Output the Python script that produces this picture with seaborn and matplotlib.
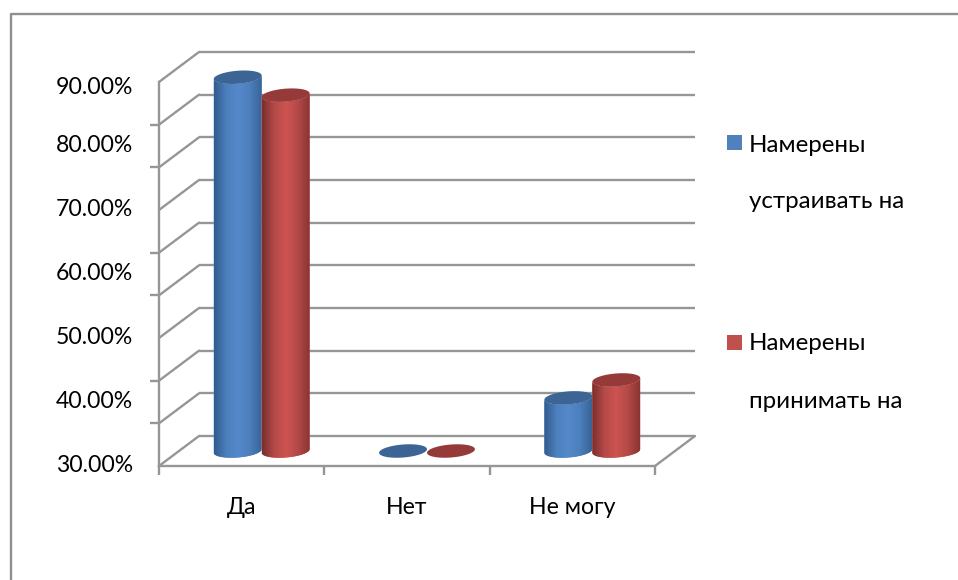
import numpy as np
import pandas as pd
import seaborn as sns
import matplotlib.pyplot as plt
from matplotlib.colors import LinearSegmentedColormap
from matplotlib.lines import Line2D
from matplotlib.patches import Polygon, Rectangle
from matplotlib.transforms import ScaledTranslation

categories = ["Да", "Нет", "Не могу"]
series_names = ["Намерены\nустраивать на", "Намерены\nпринимать на"]
arrange_values = [88.4, 30.0, 38.3]
accept_values = [85.6, 30.0, 41.1]
y_tick_values = [30, 40, 50, 60, 70, 80, 90]
y_tick_labels = ["30.00%", "40.00%", "50.00%", "60.00%", "70.00%", "80.00%", "90.00%"]

sns.set_theme(style="white")
plt.rcParams["font.family"] = ["Lato", "Open Sans", "DejaVu Sans"]

W, H = 958, 580
LINE = "#969696"
colors = ["#4f81bd", "#c0504d"]
tops = ["#3c6494", "#953a38"]
ramps = [["#335c8e", "#4c7fbc", "#5589cb", "#4c7fbc", "#3a6496"],
         ["#7a2f2d", "#b44a48", "#cd5451", "#b44a48", "#8a3533"]]

df = pd.DataFrame({
    "cat": categories * 2,
    "val": arrange_values + accept_values,
    "series": [series_names[0]] * 3 + [series_names[1]] * 3,
})

fig = plt.figure(figsize=(W / 100, H / 100), dpi=100)
ax = fig.add_axes([159 / W, 1 - 466 / H, 496 / W, 384 / H])
sns.barplot(data=df, x="cat", y="val", hue="series", palette=colors, width=0.58,
            legend=False, saturation=1, ax=ax)

ymin, ymax = 30, 90
ppx = 496 / 3  # pixels per category
ppy = 384 / (ymax - ymin)  # pixels per percent
dx, dy = 40 / ppx, 30 / ppy  # depth of the fake 3d box
grid_levels = np.linspace(ymin, ymax, 10)

# floor, back wall and side wall
ax.hlines(grid_levels + dy, -0.5 + dx, 2.5 + dx, color=LINE, lw=1.7, zorder=1, clip_on=False)
for lev in grid_levels:
    ax.plot([-0.5, -0.5 + dx], [lev, lev + dy], color=LINE, lw=1.7, zorder=1, clip_on=False)
ax.plot([2.5, 2.5 + dx], [ymin, ymin + dy], color=LINE, lw=1.7, zorder=1, clip_on=False)

b = 6.5 / ppy
tilt = 1.8 / ppy
t_front = np.linspace(np.pi, 2 * np.pi, 40)
t_full = np.linspace(0, 2 * np.pi, 80)

# seaborn bars give the geometry, cylinders are painted over them
for i, patch in enumerate(ax.patches):
    s = i // 3
    x0 = patch.get_x() + dx / 2
    w = patch.get_width()
    cx = x0 + w / 2
    top = patch.get_height() + dy / 2
    base = ymin + dy / 2
    patch.set_visible(False)
    z = 3 + i
    if top > base:
        ex = cx + w / 2 * np.cos(t_front)
        rim = b * np.sin(t_front) + tilt * np.cos(t_front)
        xs = np.r_[ex, ex[::-1]]
        ys = np.r_[base + rim, top + rim[::-1]]
        body = Polygon(np.c_[xs, ys], closed=True, fc=ramps[s][2], ec="none",
                       zorder=z, clip_on=False)
        ax.add_patch(body)
        cmap = LinearSegmentedColormap.from_list(f"c{s}", ramps[s])
        im = ax.imshow(np.linspace(0, 1, 64).reshape(1, -1), cmap=cmap, aspect="auto",
                       extent=[x0, x0 + w, base - 2 * b, top + b], zorder=z + 0.1,
                       interpolation="bilinear")
        im.set_clip_path(body)
        im.set_clip_box(fig.bbox)
    ell = np.c_[cx + w / 2 * np.cos(t_full),
                top + b * np.sin(t_full) + tilt * np.cos(t_full)]
    ax.add_patch(Polygon(ell, closed=True, fc=tops[s], ec="none", zorder=z + 0.2, clip_on=False))

ax.set_xlim(-0.5, 2.5)
ax.set_ylim(ymin, ymax)
ax.set_xlabel("")
ax.set_ylabel("")
sns.despine(ax=ax)
for side in ["left", "bottom"]:
    ax.spines[side].set_color(LINE)
    ax.spines[side].set_linewidth(1.7)

ax.set_yticks(y_tick_values, y_tick_labels, fontsize=16.6, color="black")
ax.set_yticks(grid_levels, minor=True)
ax.set_xticks(range(3), categories, fontsize=16.6, color="black")
ax.set_xticks([-0.5, 0.5, 1.5, 2.5], minor=True)
ax.tick_params(axis="y", which="major", length=0, pad=18.5)
ax.tick_params(axis="x", which="major", length=0, pad=22)
ax.tick_params(which="minor", length=6.5, width=1.7, color=LINE,
               bottom=True, left=True)

# labels in the source do not sit exactly on the value levels
for val, lab in zip(y_tick_values, ax.get_yticklabels()):
    shift = -4 if val == 90 else 3
    lab.set_transform(lab.get_transform() + ScaledTranslation(0, shift / 100, fig.dpi_scale_trans))

# outer frame of the chart area
fig.add_artist(Line2D([11 / W, 11 / W, 1], [0, 1 - 14 / H, 1 - 14 / H], color="#8f8f8f", lw=1.7))

# legend
for name, col, sq_y, line_ys in zip(series_names, colors, [135, 335], [(145, 201), (344, 401)]):
    fig.add_artist(Rectangle((727 / W, 1 - (sq_y + 15) / H), 15 / W, 15 / H, fc=col, ec="none",
                             transform=fig.transFigure))
    for part, py in zip(name.split("\n"), line_ys):
        fig.text(749 / W, 1 - py / H, part, fontsize=17.4, color="black", va="center", ha="left")

fig.savefig("out.png", dpi=100)
